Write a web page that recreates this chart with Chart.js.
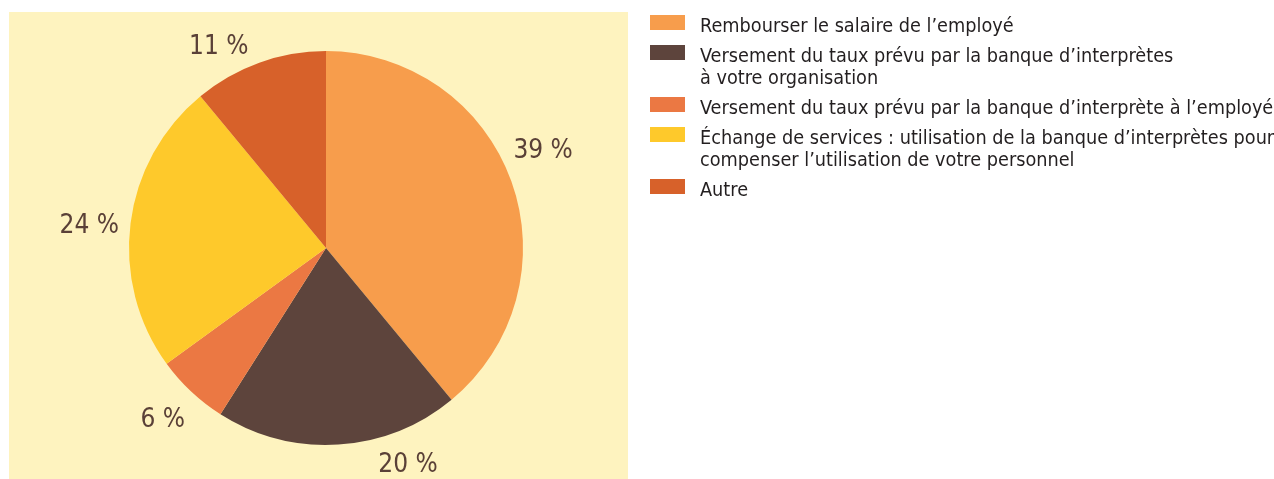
<!DOCTYPE html>
<html>
<head>
  <meta charset="UTF-8">
  <title>Répartition des modes de compensation</title>
  <script src="https://cdn.jsdelivr.net/npm/chart.js"></script>
  <style>
    body { margin: 0; background: #ffffff; }
    #wrap { width: 1274px; height: 479px; }
  </style>
</head>
<body>
  <div id="wrap">
    <canvas id="pieChart" width="1274" height="479"></canvas>
  </div>

  <script>
    const categories = [
      "Rembourser le salaire de l’employé",
      "Versement du taux prévu par la banque d’interprètes à votre organisation",
      "Versement du taux prévu par la banque d’interprète à l’employé",
      "Échange de services : utilisation de la banque d’interprètes pour compenser l’utilisation de votre personnel",
      "Autre"
    ];
    // legend text, broken into lines as printed
    const legendLines = [
      ["Rembourser le salaire de l’employé"],
      ["Versement du taux prévu par la banque d’interprètes", "à votre organisation"],
      ["Versement du taux prévu par la banque d’interprète à l’employé"],
      ["Échange de services : utilisation de la banque d’interprètes pour", "compenser l’utilisation de votre personnel"],
      ["Autre"]
    ];
    const percentages = [39, 20, 6, 24, 11];
    const sliceColors = ["#F79D4C", "#5D443C", "#EB7843", "#FEC92B", "#D7612A"];

    // per-label nudges for the outside labels: angle (degrees) and gap past the rim (px)
    const labelAngleShift = [-4.9, -17.4, 0.8, -1.2, -8.0];
    const labelGap = [42, 32, 38, 41, 33];

    const FONT = "'DejaVu Sans Condensed', 'Liberation Sans Narrow', sans-serif";

    const panelPlugin = {
      id: "panel",
      beforeDraw(chart) {
        const ctx = chart.ctx;
        ctx.save();
        ctx.fillStyle = "#FEF3BF";
        ctx.fillRect(9, 12, 619, 467);
        ctx.restore();
      }
    };

    const sliceLabels = {
      id: "sliceLabels",
      afterDatasetsDraw(chart) {
        const ctx = chart.ctx;
        const arcs = chart.getDatasetMeta(0).data;
        ctx.save();
        ctx.font = "26px " + FONT;
        ctx.fillStyle = "#5A4037";
        ctx.textAlign = "center";
        ctx.textBaseline = "middle";
        arcs.forEach((arc, i) => {
          const a = (arc.startAngle + arc.endAngle) / 2 + labelAngleShift[i] * Math.PI / 180;
          const r = arc.outerRadius + labelGap[i];
          // +3: the em-box middle sits a little above the digits' visual centre
          ctx.fillText(percentages[i] + " %", arc.x + Math.cos(a) * r, arc.y + Math.sin(a) * r + 3);
        });
        ctx.restore();
      }
    };

    const sideLegend = {
      id: "sideLegend",
      afterDraw(chart) {
        const ctx = chart.ctx;
        const colors = chart.data.datasets[0].backgroundColor;
        ctx.save();
        ctx.font = "19.7px " + FONT;
        ctx.textBaseline = "alphabetic";
        let baseline = 32;
        legendLines.forEach((lines, i) => {
          ctx.fillStyle = colors[i];
          ctx.fillRect(650, baseline - 17, 35, 15);
          ctx.fillStyle = "#231F20";
          lines.forEach((t, j) => ctx.fillText(t, 700, baseline + j * 22));
          baseline += (lines.length - 1) * 22 + 30;
        });
        ctx.restore();
      }
    };

    new Chart(document.getElementById("pieChart"), {
      type: "pie",
      data: {
        labels: categories,
        datasets: [{
          data: percentages,
          backgroundColor: sliceColors,
          borderWidth: 0,
          hoverBorderWidth: 0,
          offset: 0,
          hoverOffset: 0
        }]
      },
      options: {
        responsive: false,
        animation: false,
        events: [],
        layout: { padding: { left: 129, top: 51, right: 751, bottom: 34 } },
        plugins: {
          legend: { display: false },
          tooltip: { enabled: false }
        }
      },
      plugins: [panelPlugin, sliceLabels, sideLegend]
    });
  </script>
</body>
</html>
